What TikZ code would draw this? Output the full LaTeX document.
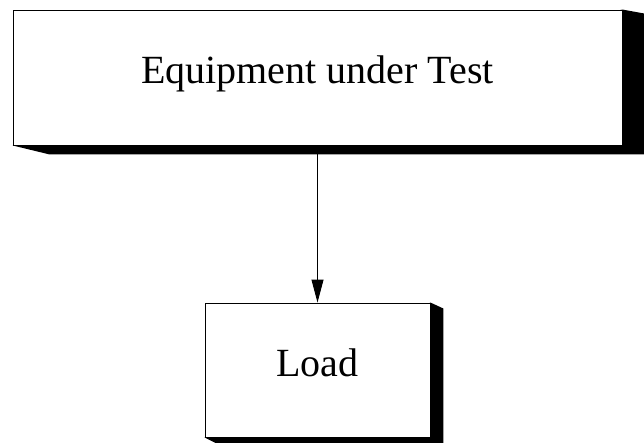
\documentclass[tikz,border=0pt]{standalone}
\usepackage{fontspec}
\setmainfont{Liberation Serif}
\usetikzlibrary{arrows.meta, positioning, calc, backgrounds}

\tikzset{
  block/.style={draw, fill=white, line width=0.9pt, inner sep=0pt,
    font=\fontsize{40}{48}\selectfont, text height=22pt, text depth=9pt},
}

\begin{document}
\begin{tikzpicture}[x=1pt, y=-1pt]
  \useasboundingbox (0,0) rectangle (644,443);
  \node[block, minimum width=609pt, minimum height=135pt] (eut) at (317.5,77.5) {Equipment under Test};
  \node[block, minimum width=225pt, minimum height=134pt] (load) at (317.5,370) {Load};
  \begin{pgfonlayer}{background}
    % drop shadows
    \fill (eut.north east) -- ($(eut.north east)+(22,4)$) -- ($(eut.south east)+(22,9)$)
      -- ($(eut.south west)+(37,9)$) -- (eut.south west) -- cycle;
    \fill (load.north east) -- ($(load.north east)+(13,6)$) -- ($(load.south east)+(13,6)$)
      -- ($(load.south west)+(12,6)$) -- (load.south west) -- cycle;
  \end{pgfonlayer}
  \draw[line width=0.9pt, -{Triangle[length=23pt, width=12pt]}] (eut.south) -- (load.north);
\end{tikzpicture}
\end{document}
